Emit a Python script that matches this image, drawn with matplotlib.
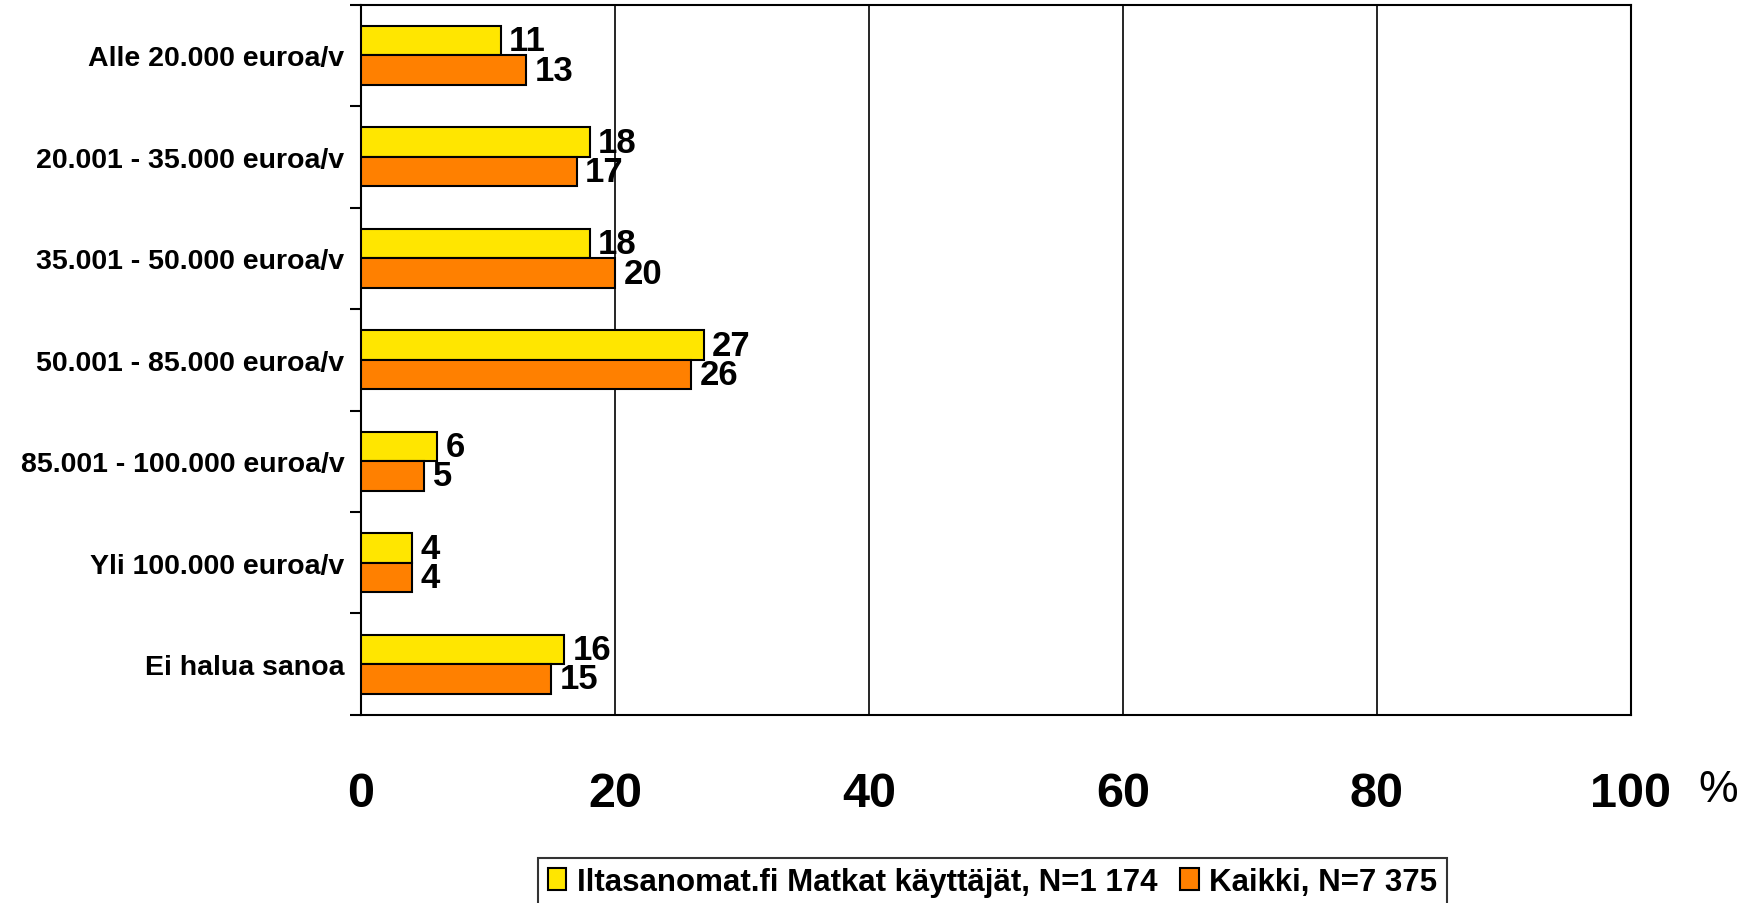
import matplotlib.pyplot as plt
import numpy as np

plt.rcParams['font.family'] = ['Liberation Sans', 'DejaVu Sans']

categories = ["Alle 20.000 euroa/v", "20.001 - 35.000 euroa/v", "35.001 - 50.000 euroa/v",
              "50.001 - 85.000 euroa/v", "85.001 - 100.000 euroa/v", "Yli 100.000 euroa/v",
              "Ei halua sanoa"]
iltasanomat = [11, 18, 18, 27, 6, 4, 16]
kaikki = [13, 17, 20, 26, 5, 4, 15]
series_names = ["Iltasanomat.fi Matkat käyttäjät, N=1 174", "Kaikki, N=7 375"]
xticks = [0, 20, 40, 60, 80, 100]

yellow = "#FFE600"
orange = "#FF8000"

fig = plt.figure(figsize=(17.6, 9.04), dpi=100)
ax = fig.add_axes([0.2051, 0.208, 0.7216, 0.7858])

y = np.arange(len(categories))
h = 0.29
b1 = ax.barh(y - h / 2, iltasanomat, height=h, color=yellow, edgecolor="black",
             linewidth=1.5, label=series_names[0], zorder=3)
b2 = ax.barh(y + h / 2, kaikki, height=h, color=orange, edgecolor="black",
             linewidth=1.5, label=series_names[1], zorder=3)

for bars, vals in ((b1, iltasanomat), (b2, kaikki)):
    for bar, v in zip(bars, vals):
        ax.annotate(f"{v}", (bar.get_width(), bar.get_y() + bar.get_height() / 2),
                    textcoords="offset points", xytext=(6, 0), ha="left", va="center",
                    fontsize=25, fontweight="bold", zorder=4)

ax.set_xlim(0, 100)
ax.set_ylim(len(categories) - 0.5, -0.5)
ax.set_xticks(xticks)
ax.set_xticklabels([str(t) for t in xticks], fontsize=35, fontweight="bold")
ax.tick_params(axis="x", length=0, pad=40)
ax.set_yticks(y)
ax.set_yticklabels(categories, fontsize=20.5, fontweight="bold")
ax.set_yticks(np.arange(-0.5, len(categories)), minor=True)
ax.tick_params(axis="y", which="major", length=0, pad=12)
ax.tick_params(axis="y", which="minor", length=8, width=1.5, direction="out")
ax.grid(True, axis="x", color="black", linewidth=1.2, zorder=0)
for s in ax.spines.values():
    s.set_linewidth(1.5)

fig.text(0.976, 0.126, "%", fontsize=32, ha="center", va="center")

leg = fig.legend(handles=[b1, b2], loc="upper center", bbox_to_anchor=(0.564, 0.05),
                 borderaxespad=0, ncol=2, frameon=True, fancybox=False, edgecolor="black",
                 prop={"size": 22.5, "weight": "bold"}, handlelength=0.6, handleheight=0.7,
                 handletextpad=0.35, columnspacing=0.7, borderpad=0.3)
leg.get_frame().set_linewidth(1.5)

fig.savefig("out.png", dpi=100)
